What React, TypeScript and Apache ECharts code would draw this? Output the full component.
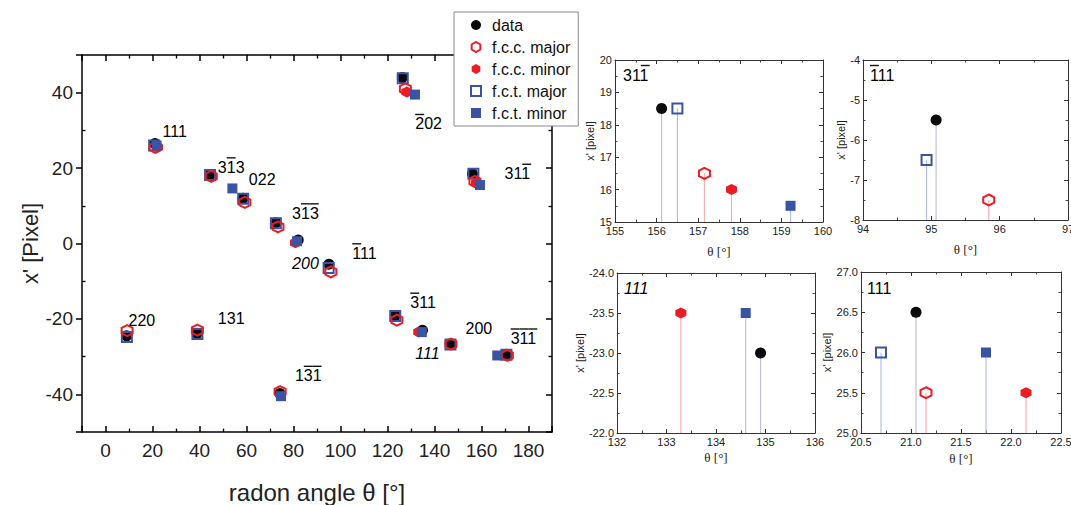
import React, { useEffect, useRef } from "react";
import * as echarts from "echarts";

const FONT = "'Liberation Sans', Arial, Helvetica, sans-serif";
const SERIF = "'Liberation Serif', 'Times New Roman', serif";
const OL = "\u0305"; // combining overline marks a barred Miller index

const BLACK = "#0a0a0a";
const RED = "#ec1c24";
const BLUE = "#3a54a4";
const HEX = "path://M50,0L93.3,25L93.3,75L50,100L6.7,75L6.7,25Z";

// ---------- main panel data: [radon angle θ, x' pixel] ----------
const mainData = [
  [21.05, 26.5], [44.5, 18.3], [58.5, 12.0], [72.5, 5.5], [82, 0.9], [95.1, -5.5],
  [9, -24.5], [39, -23.8], [74.2, -39.8], [123.3, -19.1], [134.9, -23.0],
  [146.8, -26.6], [170.6, -29.4], [126.3, 44.0], [156.15, 18.5],
];
const mainFccMajor = [
  [21.15, 25.5], [45, 17.8], [59.3, 10.9], [73.4, 4.4], [95.9, -7.5], [9.2, -23.1],
  [39.1, -23.0], [74.3, -39.3], [124, -20.3], [147, -26.7], [171, -29.7],
  [127.6, 41.0], [157.2, 16.5],
];
const mainFccMinor = [
  [22.15, 25.5], [128.2, 40.2], [157.85, 16.0], [133.3, -23.5], [80.8, 0.2],
];
const mainFctMajor = [
  [20.7, 26.0], [44.5, 18.2], [58.6, 11.9], [72.5, 5.4], [94.95, -6.5], [9.1, -24.8],
  [39.1, -24.0], [123.3, -19.2], [146.8, -26.8], [170.6, -29.5], [126.5, 43.8],
  [156.55, 18.5],
];
const mainFctMinor = [
  [21.75, 26.0], [54, 14.6], [81.5, 0.6], [74.7, -40.5], [134.6, -23.5],
  [166.7, -29.7], [131.7, 39.5], [159.35, 15.5],
];

// reflection annotations in the main panel
const annText = [
  "111", "31" + OL + "3", "022", "31" + OL + "3" + OL, "200", "1" + OL + "11", "220", "131",
  "13" + OL + "1" + OL, "3" + OL + "11", "111", "200", "3" + OL + "1" + OL + "1" + OL,
  "2" + OL + "02", "311" + OL,
];
const annX = [24.3, 47.8, 61, 79.4, 79.4, 105, 9.8, 47.8, 80.6, 129.7, 131.8, 153.2, 172.4, 131.8, 169.8];
const annY = [29.6, 20.6, 16.9, 8.4, -5.3, -2.2, -20.3, -19.9, -34.7, -15.3, -29.2, -22.6, -24.8, 32.1, 18.9];
const annItalic = [false, false, false, false, true, false, false, false, false, false, true, false, false, false, false];

// ---------- inset A: 31-1 ----------
const aData = [[156.12, 18.5]];
const aFccMajor = [[157.15, 16.5]];
const aFccMinor = [[157.8, 16.0]];
const aFctMajor = [[156.5, 18.5]];
const aFctMinor = [[159.22, 15.5]];
// ---------- inset B: -111 ----------
const bData = [[95.07, -5.5]];
const bFccMajor = [[95.84, -7.5]];
const bFccMinor: number[][] = [];
const bFctMajor = [[94.93, -6.5]];
const bFctMinor: number[][] = [];
// ---------- inset C: 111 (italic) ----------
const cData = [[134.9, -23.0]];
const cFccMajor: number[][] = [];
const cFccMinor = [[133.29, -23.5]];
const cFctMajor: number[][] = [];
const cFctMinor = [[134.6, -23.5]];
// ---------- inset D: 111 ----------
const dData = [[21.05, 26.5]];
const dFccMajor = [[21.15, 25.5]];
const dFccMinor = [[22.15, 25.5]];
const dFctMajor = [[20.7, 26.0]];
const dFctMinor = [[21.75, 26.0]];

const insetLabels = ["311" + OL, "1" + OL + "11", "111", "111"];

const NAMES = ["data", "f.c.c. major", "f.c.c. minor", "f.c.t. major", "f.c.t. minor"];
const STEM_COLORS = ["#c2c2d2", "#f5b0b0", "#f5b0b0", "#b8bfe6", "#b8bfe6"];

// ----- Miller-index text with overbars drawn as rich-text bars -----
const LBL_SIZE = 16;
const DIGIT_W = LBL_SIZE * 0.556;
const RICH = {
  bar: { width: DIGIT_W - 1, height: 1.4, backgroundColor: "#111", lineHeight: 3, padding: [0, 0.5, 0, 0.5] },
  sp: { width: DIGIT_W - 1, height: 1.4, lineHeight: 3, padding: [0, 0.5, 0, 0.5] },
  d: { fontSize: LBL_SIZE, fontFamily: FONT, color: "#000", lineHeight: 16, opacity: 1 },
  di: { fontSize: LBL_SIZE, fontFamily: FONT, color: "#000", lineHeight: 16, fontStyle: "italic", opacity: 1 },
};
function millerRich(t: string, italic: boolean) {
  const chars: string[] = [];
  const bars: boolean[] = [];
  for (const ch of t) {
    if (ch === OL) bars[bars.length - 1] = true;
    else { chars.push(ch); bars.push(false); }
  }
  const ds = italic ? "di" : "d";
  if (!bars.some(Boolean)) return `{${ds}|${chars.join("")}}`;
  const top = bars.map((b) => (b ? "{bar| }" : "{sp| }")).join("");
  return `${top}\n{${ds}|${chars.join("")}}`;
}

function styleFor(k: number, bw: number) {
  switch (k) {
    case 0: return { symbol: "circle", itemStyle: { color: BLACK, opacity: 1 } };
    case 1: return { symbol: HEX, itemStyle: { color: "rgba(255,255,255,0)", borderColor: RED, borderWidth: bw, opacity: 1 } };
    case 2: return { symbol: HEX, itemStyle: { color: RED, opacity: 1 } };
    case 3: return { symbol: "rect", itemStyle: { color: "rgba(255,255,255,0)", borderColor: BLUE, borderWidth: bw, opacity: 1 } };
    default: return { symbol: "rect", itemStyle: { color: BLUE, opacity: 1 } };
  }
}

function scat(k: number, data: number[][], xi: number, yi: number, size: number, bw: number, z: number) {
  const st = styleFor(k, bw);
  return {
    type: "scatter", name: NAMES[k], xAxisIndex: xi, yAxisIndex: yi, data,
    symbol: st.symbol, symbolSize: k >= 3 ? size - 1 : size, itemStyle: st.itemStyle,
    z, emphasis: { disabled: true }, silent: true,
  };
}

function stems(sets: number[][][], base: number, xi: number, yi: number) {
  const data: number[][] = [];
  sets.forEach((set, k) => set.forEach((p) => data.push([p[0], p[1], base, k])));
  return {
    type: "custom", xAxisIndex: xi, yAxisIndex: yi, data, z: 1, silent: true,
    encode: { x: 0, y: 1 },
    renderItem: (params: any, api: any) => {
      const x = api.value(0), y = api.value(1), b = api.value(2), k = api.value(3);
      const p1 = api.coord([x, b]);
      const p2 = api.coord([x, y]);
      return {
        type: "line",
        shape: { x1: p1[0], y1: p1[1], x2: p2[0], y2: p2[1] },
        style: { stroke: STEM_COLORS[k], lineWidth: 1.2 },
      };
    },
  };
}

type AxCfg = {
  min: number; max: number; interval?: number; splitNumber?: number; inverse?: boolean;
  name: string; nameGap: number; nameFont: string; nameSize: number;
  labelSize: number; labelMargin: number; fmt: (v: number) => string;
  lineColor: string; lineWidth: number; tickLen: number; minorLen: number; tickInside: boolean;
  minorOnPrimary: boolean;
};

function axis(dim: "x" | "y", gridIndex: number, c: AxCfg, mirror: boolean) {
  const isX = dim === "x";
  const ls = { color: c.lineColor, width: c.lineWidth };
  return {
    type: "value", gridIndex, min: c.min, max: c.max, interval: c.interval, splitNumber: c.splitNumber,
    inverse: c.inverse, position: mirror ? (isX ? "top" : "right") : (isX ? "bottom" : "left"),
    axisLine: { show: true, onZero: false, lineStyle: ls },
    axisTick: { show: true, inside: mirror ? true : c.tickInside, length: c.tickLen, lineStyle: ls },
    minorTick: { show: mirror || c.minorOnPrimary, splitNumber: 2, length: c.minorLen, lineStyle: { color: c.lineColor, width: c.lineWidth * 0.9 } },
    splitLine: { show: false },
    axisLabel: mirror ? { show: false } : {
      show: true, fontSize: c.labelSize, color: "#222", fontFamily: FONT, margin: c.labelMargin,
      formatter: c.fmt, showMinLabel: true, showMaxLabel: true, hideOverlap: false,
    },
    name: mirror ? "" : c.name, nameLocation: "middle", nameGap: c.nameGap,
    nameTextStyle: { fontSize: c.nameSize, fontFamily: c.nameFont, color: "#222" },
  };
}

function insetAxes(gi: number, x: Partial<AxCfg>, y: Partial<AxCfg>) {
  const base = {
    labelSize: 11, labelMargin: 3, lineColor: "#333", lineWidth: 1, tickLen: 4, minorLen: 2.5,
    tickInside: true, minorOnPrimary: true, nameSize: 11, nameFont: FONT,
  };
  const xc = { ...base, nameFont: SERIF, nameSize: 13, name: "θ [°]", ...x } as AxCfg;
  const yc = { ...base, name: "x' [pixel]", ...y } as AxCfg;
  return {
    xs: [axis("x", gi, xc, false), axis("x", gi, xc, true)],
    ys: [axis("y", gi, yc, false), axis("y", gi, yc, true)],
  };
}

function buildOption() {
  const mainX: AxCfg = {
    min: -10, max: 190, splitNumber: 10, name: "radon angle θ [°]", nameGap: 48, nameFont: FONT, nameSize: 24,
    labelSize: 19, labelMargin: 9, fmt: (v) => (Math.abs(v % 20) < 1e-6 ? String(v) : ""),
    lineColor: "#000", lineWidth: 1.5, tickLen: 6, minorLen: 3.5, tickInside: true, minorOnPrimary: true,
  };
  const mainY: AxCfg = {
    min: -50, max: 50, splitNumber: 5, name: "x' [Pixel]", nameGap: 40, nameFont: FONT, nameSize: 22,
    labelSize: 19, labelMargin: 9, fmt: (v) => (Math.abs(v % 20) < 1e-6 ? String(v) : ""),
    lineColor: "#000", lineWidth: 1.5, tickLen: 6, minorLen: 3.5, tickInside: false, minorOnPrimary: false,
  };
  const f0 = (v: number) => String(v);
  const f1 = (v: number) => v.toFixed(1);

  const A = insetAxes(1, { min: 155, max: 160, interval: 1, nameGap: 23, fmt: f0 }, { min: 15, max: 20, interval: 1, nameGap: 15, fmt: f0 });
  const B = insetAxes(2, { min: 94, max: 97, interval: 1, nameGap: 23, fmt: f0 }, { min: -8, max: -4, interval: 1, nameGap: 11, fmt: f0 });
  const C = insetAxes(3, { min: 132, max: 136, interval: 1, nameGap: 18, fmt: f0 }, { min: -24, max: -22, interval: 0.5, inverse: true, nameGap: 26, fmt: f1 });
  const D = insetAxes(4, { min: 20.5, max: 22.5, interval: 0.5, nameGap: 19, fmt: f1 }, { min: 25, max: 27, interval: 0.5, nameGap: 22, fmt: f1 });

  const mainLeftMinor = {
    ...axis("y", 0, { ...mainY, tickInside: true, minorOnPrimary: true }, false),
    axisLine: { show: false, onZero: false }, axisTick: { show: false, inside: true },
    axisLabel: { show: false }, name: "",
  };

  const xAxis = [axis("x", 0, mainX, false), axis("x", 0, mainX, true), ...A.xs, ...B.xs, ...C.xs, ...D.xs];
  const yAxis = [axis("y", 0, mainY, false), axis("y", 0, mainY, true), ...A.ys, ...B.ys, ...C.ys, ...D.ys, mainLeftMinor];

  const g = (left: number, top: number, width: number, height: number) => ({
    left, top, width, height, containLabel: false, outerBoundsMode: "none", show: false,
  });

  const series: any[] = [];
  // main
  const mainSets = [mainData, mainFctMajor, mainFccMajor, mainFccMinor, mainFctMinor];
  const mainKinds = [0, 3, 1, 2, 4];
  mainSets.forEach((d, i) => series.push(scat(mainKinds[i], d, 0, 0, 11, 2, 3 + i)));
  series.push({
    type: "scatter", xAxisIndex: 0, yAxisIndex: 0, symbolSize: 0, silent: true, z: 10,
    itemStyle: { opacity: 1 },
    data: annText.map((t, i) => ({
      value: [annX[i], annY[i]], name: millerRich(t, annItalic[i]),
    })),
    label: {
      show: true, position: "right", distance: 0, formatter: "{b}", align: "left", opacity: 1,
      fontSize: LBL_SIZE, fontFamily: FONT, color: "#000", rich: RICH,
    },
  });

  const insets = [
    { gi: 1, sets: [aData, aFccMajor, aFccMinor, aFctMajor, aFctMinor], base: 15 },
    { gi: 2, sets: [bData, bFccMajor, bFccMinor, bFctMajor, bFctMinor], base: -8 },
    { gi: 3, sets: [cData, cFccMajor, cFccMinor, cFctMajor, cFctMinor], base: -22 },
    { gi: 4, sets: [dData, dFccMajor, dFccMinor, dFctMajor, dFctMinor], base: 25 },
  ];
  insets.forEach(({ gi, sets, base }) => {
    const xi = gi * 2, yi = gi * 2;
    series.push(stems(sets, base, xi, yi));
    sets.forEach((d, k) => { if (d.length) series.push(scat(k, d, xi, yi, 11, 2, 3)); });
  });

  const lbl = (text: string, x: number, y: number, italic = false) => ({
    type: "text", x, y, z: 20,
    style: {
      text: millerRich(text, italic), rich: RICH, fontSize: LBL_SIZE, fontFamily: FONT, fill: "#000",
      textVerticalAlign: "bottom", align: "left",
    },
  });

  return {
    animation: false,
    backgroundColor: "#ffffff",
    grid: [g(82, 55, 470, 377), g(615, 60, 208, 162), g(863, 60, 205, 160), g(617, 273, 198, 160), g(861, 272, 200, 161)],
    xAxis, yAxis, series,
    legend: {
      data: NAMES, orient: "vertical", left: 454, top: 12, itemWidth: 10, itemHeight: 10, itemGap: 2,
      padding: [3, 8, 3, 16], backgroundColor: "#fff", borderColor: "#8a8a8a", borderWidth: 1,
      selectedMode: false, z: 30,
      textStyle: { fontSize: 16, fontFamily: FONT, color: "#111", lineHeight: 20, padding: [0, 0, 0, 6] },
    },
    graphic: [
      lbl(insetLabels[0], 623, 83),
      lbl(insetLabels[1], 870, 83),
      lbl(insetLabels[2], 624, 296, true),
      lbl(insetLabels[3], 867, 296),
    ],
  };
}

export default function App() {
  const ref = useRef<HTMLDivElement>(null);
  useEffect(() => {
    const chart = echarts.init(ref.current as HTMLDivElement, null, { renderer: "svg" });
    chart.setOption(buildOption() as any);
    return () => chart.dispose();
  }, []);
  return (
    <div
      ref={ref}
      style={{ position: "fixed", left: 0, top: 0, width: 1071, height: 505, background: "#fff" }}
    />
  );
}
